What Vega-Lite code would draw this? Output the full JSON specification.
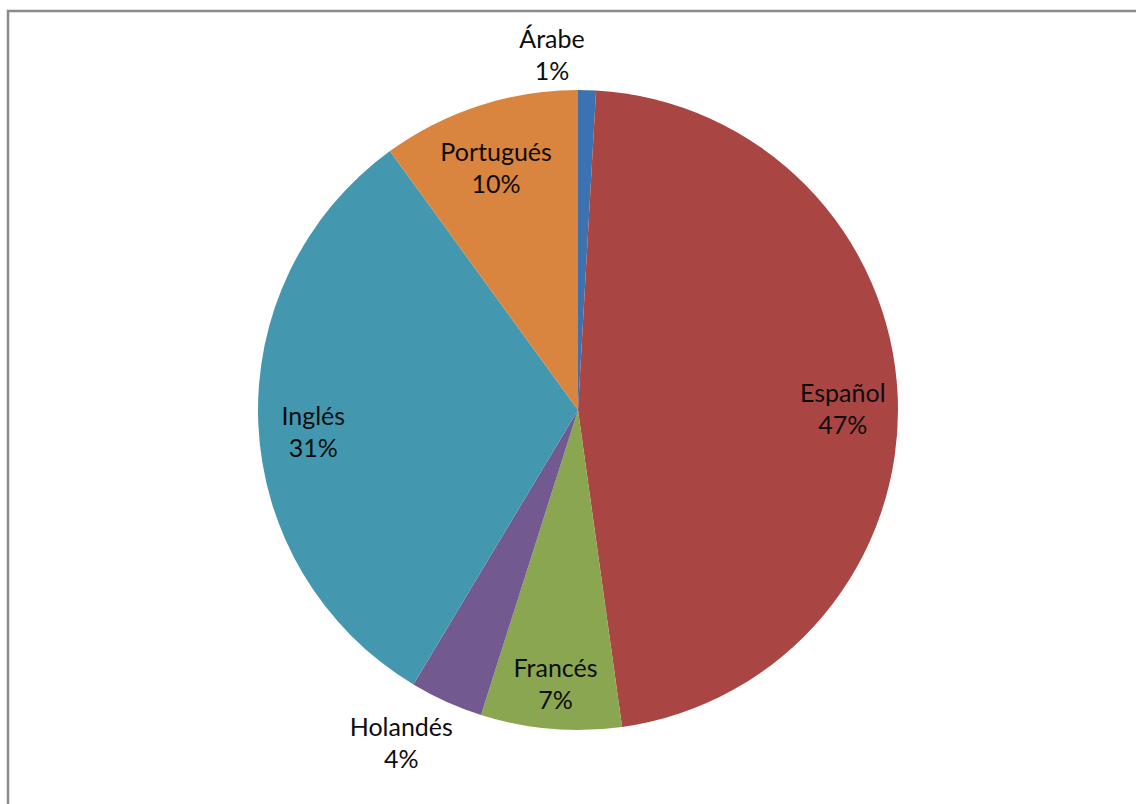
{
  "$schema": "https://vega.github.io/schema/vega-lite/v6.json",
  "width": 1140,
  "height": 805,
  "autosize": {"type": "none"},
  "padding": {"left": 8, "top": 11, "right": -12, "bottom": -12},
  "background": "white",
  "view": {"stroke": "#8a8a8a", "strokeWidth": 2.5},
  "config": {"view": {"stroke": "#8a8a8a", "strokeWidth": 2.5}},
  "data": {
    "values": [
      {"idx": 1, "lang": "Árabe", "value": 0.9},
      {"idx": 2, "lang": "Español", "value": 46.9},
      {"idx": 3, "lang": "Francés", "value": 7.1},
      {"idx": 4, "lang": "Holandés", "value": 3.7},
      {"idx": 5, "lang": "Inglés", "value": 31.4},
      {"idx": 6, "lang": "Portugués", "value": 10.0}
    ]
  },
  "transform": [
    {"calculate": "datum.lang + '\\n' + format(datum.value, '.0f') + '%'", "as": "label"}
  ],
  "encoding": {
    "theta": {"field": "value", "type": "quantitative", "stack": true},
    "order": {"field": "idx", "type": "quantitative"}
  },
  "layer": [
    {
      "mark": {"type": "arc", "outerRadius": 320, "x": 570, "y": 399},
      "encoding": {
        "color": {
          "field": "lang",
          "type": "nominal",
          "scale": {
            "domain": ["Árabe", "Español", "Francés", "Holandés", "Inglés", "Portugués"],
            "range": ["#3d72b0", "#a94543", "#8aa650", "#725990", "#4398af", "#d9843f"]
          },
          "legend": null
        }
      }
    },
    {
      "mark": {"type": "text", "radius": 265, "dy": -5, "x": 570, "y": 399, "font": "Lato", "fontSize": 25, "lineHeight": 32, "lineBreak": "\n", "fill": "#0d0d0d", "align": "center", "baseline": "middle"},
      "encoding": {
        "text": {"field": "label", "type": "nominal"},
        "opacity": {"condition": {"test": "datum.lang !== 'Árabe' && datum.lang !== 'Holandés'", "value": 1}, "value": 0}
      }
    },
    {
      "mark": {"type": "text", "radius": 376, "dx": -22, "dy": -25, "x": 570, "y": 399, "font": "Lato", "fontSize": 25, "lineHeight": 32, "lineBreak": "\n", "fill": "#0d0d0d", "align": "center", "baseline": "middle"},
      "encoding": {
        "text": {"field": "label", "type": "nominal"},
        "opacity": {"condition": {"test": "datum.lang === 'Holandés'", "value": 1}, "value": 0}
      }
    },
    {
      "mark": {"type": "text", "radius": 354, "dx": -36, "dy": -16, "x": 570, "y": 399, "font": "Lato", "fontSize": 25, "lineHeight": 32, "lineBreak": "\n", "fill": "#0d0d0d", "align": "center", "baseline": "middle"},
      "encoding": {
        "text": {"field": "label", "type": "nominal"},
        "opacity": {"condition": {"test": "datum.lang === 'Árabe'", "value": 1}, "value": 0}
      }
    }
  ]
}
